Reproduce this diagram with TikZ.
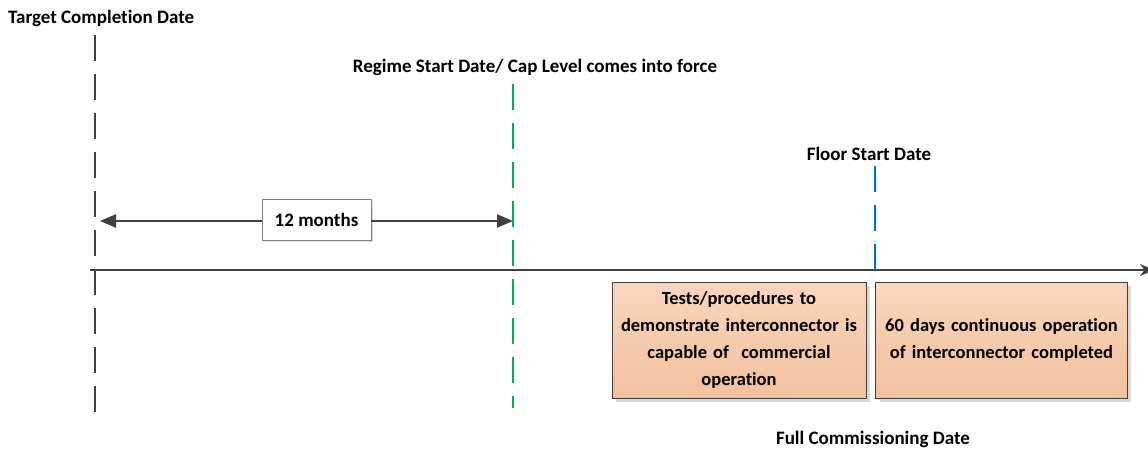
\documentclass[tikz,border=0pt]{standalone}
\usepackage{fontspec}
\setmainfont[Ligatures={NoCommon}]{Carlito}
\usetikzlibrary{arrows.meta,shadows}
\definecolor{axisgray}{HTML}{3F3F3F}
\definecolor{markgreen}{HTML}{00B050}
\definecolor{markblue}{HTML}{0070C0}
\definecolor{peachtop}{HTML}{F8D6BE}
\definecolor{peachbot}{HTML}{F3C09C}
\tikzset{
  lbl/.style={font=\bfseries\fontsize{19}{22}\selectfont, inner sep=0pt},
  marker/.style={line width=2.2pt, dash pattern=on 26pt off 13pt},
  stagebox/.style={draw=axisgray, line width=0.8pt, top color=peachtop, bottom color=peachbot,
    minimum width=254pt, minimum height=116pt, text width=245pt, align=center,
    font=\bfseries\fontsize{18.5}{27}\selectfont,
    drop shadow={shadow xshift=4pt, shadow yshift=-4pt, fill=black!15, opacity=1}},
  spanbox/.style={draw=gray, line width=0.6pt, fill=white, minimum width=109pt, minimum height=41pt,
    font=\bfseries\fontsize{19}{22}\selectfont,
    drop shadow={shadow xshift=2pt, shadow yshift=-2pt, fill=black!12, opacity=1}},
}
\begin{document}
\begin{tikzpicture}[x=1pt, y=-1pt]
\useasboundingbox (0,0) rectangle (1148,453);

% milestone labels
\node[lbl, anchor=west] (tcd) at (8,18) {Target Completion Date};
\node[lbl] (rsd) at (535,67) {Regime Start Date/ Cap Level comes into force};
\node[lbl] (fsd) at (869,154) {Floor Start Date};
\node[lbl] (fcd) at (873,439) {Full Commissioning Date};

% milestone marker ends
\coordinate (tcdT) at (95,35);
\coordinate (tcdB) at (95,413);
\coordinate (rsdT) at (513,84);
\coordinate (rsdB) at (513,408);
\coordinate (fsdT) at (875,166);
\coordinate (fsdB) at (875,270);

% time axis
\coordinate (axL) at (90,270);
\coordinate (axR) at (1154,270);
\draw[axisgray, line width=2.4pt, -{Stealth[length=14pt,width=12pt]}] (axL) -- (axR);

% dashed milestone markers
\draw[marker, axisgray] (tcdT) -- (tcdB);
\draw[marker, markgreen] (rsdT) -- (rsdB);
\draw[marker, markblue] (fsdT) -- (fsdB);

% twelve month span
\node[spanbox] (span) at (316.5,219.5) {12 months};
\coordinate (spL) at (100,221);
\coordinate (spR) at (513,221);
\draw[axisgray, line width=2.2pt, -{Triangle[length=16pt,width=13pt]}] (span.west |- spL) -- (spL);
\draw[axisgray, line width=2.2pt, -{Triangle[length=16pt,width=13pt]}] (span.east |- spR) -- (spR);

% stages after the regime start
\node[stagebox] (tests) at (739,340) {Tests/procedures to\\demonstrate interconnector is\\capable of~~commercial\\operation};
\node[stagebox, minimum width=251pt] (cont) at (1001.5,340) {60 days continuous operation\\of interconnector completed};
\end{tikzpicture}
\end{document}
